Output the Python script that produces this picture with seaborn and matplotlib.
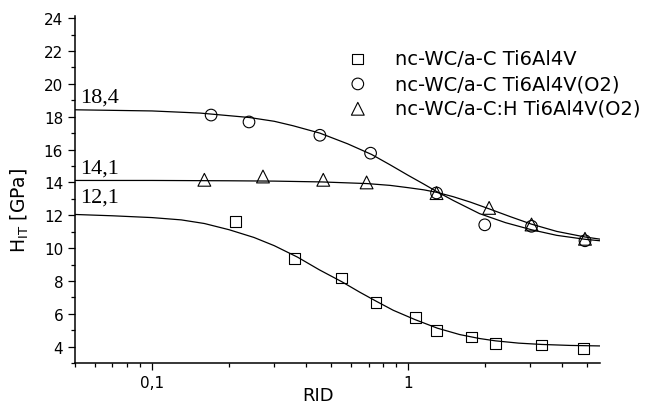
import numpy as np
import pandas as pd
import matplotlib
matplotlib.use('Agg')
import matplotlib.pyplot as plt
import matplotlib.ticker as mticker
import seaborn as sns

sns.set_style("ticks", {'axes.edgecolor': 'black', 'xtick.color': 'black',
                        'ytick.color': 'black', 'text.color': 'black',
                        'axes.labelcolor': 'black'})
plt.rcParams['font.family'] = ['DejaVu Sans']
plt.rcParams['mathtext.default'] = 'regular'

# measured points
rid_sq = [0.211, 0.36, 0.55, 0.748, 1.065, 1.29, 1.77, 2.19, 3.32, 4.83]
h_sq = [11.6, 9.36, 8.18, 6.69, 5.8, 4.99, 4.6, 4.18, 4.1, 3.88]

rid_ci = [0.17, 0.239, 0.452, 0.713, 1.29, 1.99, 3.03, 4.9]
h_ci = [18.1, 17.68, 16.87, 15.78, 13.36, 11.42, 11.33, 10.45]

rid_tr = [0.16, 0.271, 0.466, 0.688, 1.29, 2.07, 3.03, 4.9]
h_tr = [14.16, 14.36, 14.16, 14.0, 13.35, 12.45, 11.44, 10.57]

# fitted curves
fit_x_sq = [0.05, 0.07, 0.1, 0.13, 0.16, 0.2, 0.25, 0.3, 0.37, 0.45, 0.55, 0.647,
            0.748, 0.874, 1.06, 1.3, 1.59, 1.9, 2.19, 2.7, 3.32, 4.3, 5.6]
fit_y_sq = [12.05, 11.97, 11.86, 11.72, 11.5, 11.12, 10.65, 10.15, 9.45, 8.68, 7.96, 7.32,
            6.78, 6.22, 5.66, 5.13, 4.74, 4.5, 4.36, 4.22, 4.14, 4.08, 4.05]

fit_x_ci = [0.05, 0.1, 0.154, 0.24, 0.3, 0.355, 0.452, 0.58, 0.72, 0.85, 1.0, 1.15,
            1.29, 1.5, 1.9, 2.4, 3.03, 3.8, 4.9, 5.6]
fit_y_ci = [18.42, 18.35, 18.22, 17.95, 17.72, 17.45, 17.0, 16.35, 15.7, 15.07, 14.43, 13.9,
            13.45, 12.9, 12.1, 11.55, 11.12, 10.78, 10.54, 10.45]

fit_x_tr = [0.05, 0.1, 0.2, 0.3, 0.46, 0.69, 0.85, 1.0, 1.15, 1.29, 1.5, 1.75,
            2.08, 2.5, 3.03, 3.8, 4.9, 5.6]
fit_y_tr = [14.12, 14.12, 14.1, 14.08, 14.03, 13.93, 13.82, 13.68, 13.55, 13.4, 13.13, 12.8,
            12.38, 11.92, 11.46, 11.02, 10.68, 10.55]

labels = ['nc-WC/a-C Ti6Al4V', 'nc-WC/a-C Ti6Al4V(O2)', 'nc-WC/a-C:H Ti6Al4V(O2)']
plateau_text = ['18,4', '14,1', '12,1']
plateau_x = [0.0525, 0.0525, 0.0525]
plateau_y = [19.2, 14.87, 13.1]

fig, ax = plt.subplots(figsize=(6.52, 4.06), dpi=100)
fig.subplots_adjust(left=0.115, right=0.92, bottom=0.103, top=0.957)

for fx, fy in [(fit_x_sq, fit_y_sq), (fit_x_ci, fit_y_ci), (fit_x_tr, fit_y_tr)]:
    sns.lineplot(x=fx, y=fy, ax=ax, color='black', linewidth=0.9, sort=False)

for (px, py, mk, ms), lab in zip([(rid_sq, h_sq, 's', 60), (rid_ci, h_ci, 'o', 70),
                                  (rid_tr, h_tr, '^', 85)], labels):
    sns.scatterplot(x=px, y=py, ax=ax, marker=mk, s=ms, facecolor='none',
                    edgecolor='black', linewidth=0.8, label=lab, zorder=3)

for t, tx, ty in zip(plateau_text, plateau_x, plateau_y):
    ax.text(tx, ty, t, family='Liberation Serif', fontsize=16, va='center', ha='left')

ax.set_xscale('log')
ax.set_xlim(0.05, 5.6)
ax.set_ylim(3, 24.1)
ax.xaxis.set_major_locator(mticker.FixedLocator([0.1, 1]))
ax.xaxis.set_major_formatter(mticker.FixedFormatter(['0,1', '1']))
ax.xaxis.set_minor_locator(mticker.LogLocator(base=10, subs=np.arange(2, 10)))
ax.xaxis.set_minor_formatter(mticker.NullFormatter())
ax.yaxis.set_minor_locator(mticker.MultipleLocator(1))
ax.set_yticks([4, 6, 8, 10, 12, 14, 16, 18, 20, 22, 24])

ax.tick_params(which='major', length=5, width=0.9, labelsize=11, direction='out')
ax.tick_params(which='minor', length=3, width=0.9, direction='out')
for s in ['top', 'right']:
    ax.spines[s].set_visible(False)
for s in ['left', 'bottom']:
    ax.spines[s].set_linewidth(1.1)

ax.set_xlabel('RID', fontsize=13)
ax.set_ylabel('H$_{IT}$ [GPa]', fontsize=13.5)
ax.xaxis.set_label_coords(0.463, -0.066)
ax.yaxis.set_label_coords(-0.084, 0.444)

ax.legend(loc='upper left', bbox_to_anchor=(0.487, 0.928), frameon=False, fontsize=14,
          handletextpad=0.9, labelspacing=0.3, borderaxespad=0)

fig.savefig('out.png', dpi=100)
